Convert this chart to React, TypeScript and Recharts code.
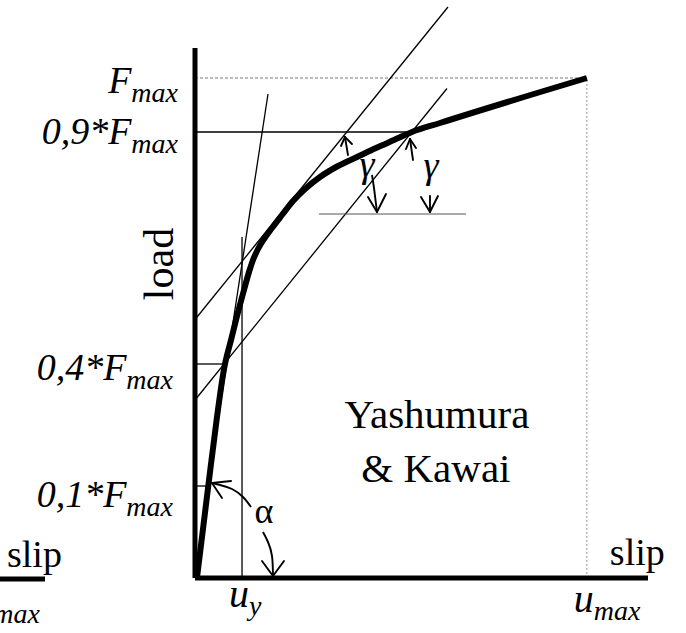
import React from 'react';
import { ComposedChart, Line, Scatter, XAxis, YAxis, ReferenceLine } from 'recharts';

const SERIF = 'Liberation Serif, Tinos, Times New Roman, DejaVu Serif, serif';
const PLOT_LEFT = 195;
const PLOT_BOTTOM = 578;

// load–slip curve (schematic units: umax = 100, Fmax = 100)
const curveSlip = [0.5, 4.08, 7.65, 9.19, 10.72, 12.5, 13.78, 14.8, 16.08, 17.61, 19.65, 22.2, 25.01, 28.07, 31.9, 36.49, 41.34, 46.19, 50.78, 55.37, 62.52, 100];
const curveLoad = [0, 22.8, 42.8, 47.6, 52.4, 57.6, 61.2, 63.6, 65.8, 67.8, 70.0, 72.6, 75.4, 77.8, 80.2, 82.4, 84.2, 86.0, 87.6, 89.2, 91.0, 100];

// axis ticks
const loadTicks = [18.4, 42.8, 89.2, 100];
const loadTickLabels = ['0,1*F', '0,4*F', '0,9*F', 'F'];
const slipTicks = [12, 100];
const slipTickSubs = ['y', 'max'];

// horizontal level lines (0.1, 0.4, 0.9 Fmax) ending on the curve
const levelLoads = [18.4, 42.8, 89.2];
const levelEnds = [3.3, 7.65, 55.37];

// construction lines
const secantLine = [[3.3, 18.4], [18.63, 96.8]];
const tangentUpper = [[0, 51.7], [64.56, 114.2]];
const tangentLower = [[0, 35.6], [64.3, 97.9]];
const uyLine = [[12, 0], [12, 68.2]];
const gammaBase = [[31.64, 72.8], [69.15, 72.8]];
const fmaxLine = [[0, 100], [100, 100]];
const umaxLine = [[100, 0], [100, 100]];

// arrows
const arcAlphaUpSlip = [4.34, 6.38, 9.44, 12.25, 14.29];
const arcAlphaUpLoad = [19.0, 18.6, 17.8, 16.2, 14.2];
const arcAlphaDownSlip = [17.35, 18.63, 19.65, 19.9];
const arcAlphaDownLoad = [9.2, 7.2, 4.4, 0.4];
const arcGammaDownSlip = [45.16, 45.68, 46.44];
const arcGammaDownLoad = [80.6, 78.0, 73.2];
const arrowShafts = [
  [[38.27, 88.2], [39.04, 84.6]],
  [[54.86, 87.8], [55.63, 83.6]],
  [[59.96, 76.4], [59.96, 73.2]],
];
const arrowTips = [[4.34, 19.0], [19.9, 0.4], [38.27, 88.2], [54.86, 87.8], [46.44, 73.2], [59.96, 73.2]];
const arrowWingA = [[9.19, 19.4], [17.1, 3.4], [37.25, 86.4], [53.84, 85.8], [44.14, 76.2], [57.67, 76.2]];
const arrowWingB = [[6.89, 16.0], [22.71, 3.4], [40.06, 86.8], [56.39, 86.0], [48.74, 76.8], [62.0, 76.4]];

// annotations
const noteText = ['Yashumura', '& Kawai', 'α', 'γ', 'γ', 'slip'];
const noteSlip = [61.73, 61.48, 17.6, 43.88, 60.2, 105.87];
const noteLoad = [30.0, 19.2, 11.0, 80.2, 80.0, 2.6];

const zip = (xs: number[], ys: number[]) => xs.map((x, i) => ({ x, y: ys[i] }));
const curveData = zip(curveSlip, curveLoad);
const notesData = noteText.map((t, i) => ({ x: noteSlip[i], y: noteLoad[i], text: t, i }));

const noteStyles = [
  { fontSize: 41, fontStyle: 'normal', anchor: 'middle' },
  { fontSize: 41, fontStyle: 'normal', anchor: 'middle' },
  { fontSize: 36, fontStyle: 'normal', anchor: 'middle' },
  { fontSize: 38, fontStyle: 'italic', anchor: 'middle' },
  { fontSize: 38, fontStyle: 'italic', anchor: 'middle' },
  { fontSize: 38, fontStyle: 'normal', anchor: 'start' },
];

const NoteShape = (p: any) => {
  const d = p.payload;
  const s = noteStyles[d.i];
  return (
    <text x={p.cx} y={p.cy} textAnchor={s.anchor} style={{ fontFamily: SERIF, fontSize: s.fontSize, fontStyle: s.fontStyle }} fill="#000">
      {d.text}
    </text>
  );
};

const LoadTick = (props: any) => {
  const { x, y, payload } = props;
  const i = loadTicks.indexOf(payload.value);
  const dy = [21, 16, 12, 15][i];
  const dx = [22, 22, 17, 17][i];
  return (
    <text x={x - dx} y={y + dy} textAnchor="end" style={{ fontFamily: SERIF, fontStyle: 'italic', fontSize: 38 }} fill="#000">
      {loadTickLabels[i]}
      <tspan style={{ fontSize: 28 }} dy={9}>max</tspan>
    </text>
  );
};

const SlipTick = (props: any) => {
  const { x, y, payload } = props;
  const i = slipTicks.indexOf(payload.value);
  const dy = [29, 34][i];
  return (
    <text x={x - 13} y={y + dy} textAnchor="start" style={{ fontFamily: SERIF, fontStyle: 'italic', fontSize: 40 }} fill="#000">
      u
      <tspan style={{ fontSize: 28 }} dy={8}>{slipTickSubs[i]}</tspan>
    </text>
  );
};

const LeftNotes = () => (
  <g>
    <text
      x={PLOT_LEFT - 22}
      y={264}
      transform={`rotate(-90 ${PLOT_LEFT - 22} 264)`}
      textAnchor="middle"
      style={{ fontFamily: SERIF, fontSize: 42 }}
      fill="#000"
    >
      load
    </text>
    <text x={PLOT_LEFT - 188} y={PLOT_BOTTOM - 11} style={{ fontFamily: SERIF, fontSize: 38 }} fill="#000">slip</text>
    <line x1={0} x2={PLOT_LEFT - 150} y1={PLOT_BOTTOM + 1} y2={PLOT_BOTTOM + 1} stroke="#000" strokeWidth={5} />
    <text x={PLOT_LEFT - 155} y={PLOT_BOTTOM + 45} textAnchor="end" style={{ fontFamily: SERIF, fontStyle: 'italic', fontSize: 28 }} fill="#000">max</text>
  </g>
);

const seg = (s: number[][]) => [{ x: s[0][0], y: s[0][1] }, { x: s[1][0], y: s[1][1] }];

export default function App() {
  const thin = { stroke: '#000', strokeWidth: 1.3, ifOverflow: 'visible' as const };
  const arrow = { stroke: '#000', strokeWidth: 1.9, strokeLinecap: 'round' as const, ifOverflow: 'visible' as const };
  return (
    <div style={{ position: 'absolute', left: 0, top: 0, width: 686, height: 633, background: '#fff', fontFamily: SERIF }}>
      <ComposedChart width={686} height={633} margin={{ top: 48, right: 38, bottom: 15, left: 45 }}>
        <XAxis
          type="number"
          dataKey="x"
          domain={[0, 115.6]}
          ticks={slipTicks}
          tick={SlipTick}
          tickLine={false}
          tickSize={0}
          tickMargin={0}
          height={40}
          axisLine={{ stroke: '#000', strokeWidth: 5 }}
          interval={0}
        />
        <YAxis
          type="number"
          dataKey="y"
          domain={[0, 106]}
          ticks={loadTicks}
          tick={LoadTick}
          tickLine={false}
          tickSize={0}
          tickMargin={0}
          width={150}
          axisLine={{ stroke: '#000', strokeWidth: 5 }}
          interval={0}
          label={LeftNotes}
        />
        <ReferenceLine segment={seg(fmaxLine)} stroke="#777" strokeWidth={1} strokeDasharray="3 2" ifOverflow="visible" />
        <ReferenceLine segment={seg(umaxLine)} stroke="#999" strokeWidth={1} strokeDasharray="2 2" ifOverflow="visible" />
        {levelLoads.map((l, i) => (
          <ReferenceLine key={'lv' + i} segment={[{ x: 0, y: l }, { x: levelEnds[i], y: l }]} {...thin} />
        ))}
        <ReferenceLine segment={seg(secantLine)} {...thin} />
        <ReferenceLine segment={seg(tangentUpper)} {...thin} />
        <ReferenceLine segment={seg(tangentLower)} {...thin} />
        <ReferenceLine segment={seg(uyLine)} {...thin} />
        <ReferenceLine segment={seg(gammaBase)} stroke="#555" strokeWidth={1} ifOverflow="visible" />
        {arrowShafts.map((s, i) => (
          <ReferenceLine key={'sh' + i} segment={seg(s)} {...arrow} />
        ))}
        {arrowTips.map((t, i) => (
          <ReferenceLine key={'wa' + i} segment={seg([t, arrowWingA[i]])} {...arrow} />
        ))}
        {arrowTips.map((t, i) => (
          <ReferenceLine key={'wb' + i} segment={seg([t, arrowWingB[i]])} {...arrow} />
        ))}
        <Line data={zip(arcAlphaUpSlip, arcAlphaUpLoad)} dataKey="y" type="natural" stroke="#000" strokeWidth={1.9} dot={false} activeDot={false} isAnimationActive={false} />
        <Line data={zip(arcAlphaDownSlip, arcAlphaDownLoad)} dataKey="y" type="natural" stroke="#000" strokeWidth={1.9} dot={false} activeDot={false} isAnimationActive={false} />
        <Line data={zip(arcGammaDownSlip, arcGammaDownLoad)} dataKey="y" type="natural" stroke="#000" strokeWidth={1.9} dot={false} activeDot={false} isAnimationActive={false} />
        <Line data={curveData} dataKey="y" type="monotone" stroke="#000" strokeWidth={6} strokeLinejoin="round" dot={false} activeDot={false} isAnimationActive={false} />
        <Scatter data={notesData} shape={NoteShape} isAnimationActive={false} />
      </ComposedChart>
    </div>
  );
}
